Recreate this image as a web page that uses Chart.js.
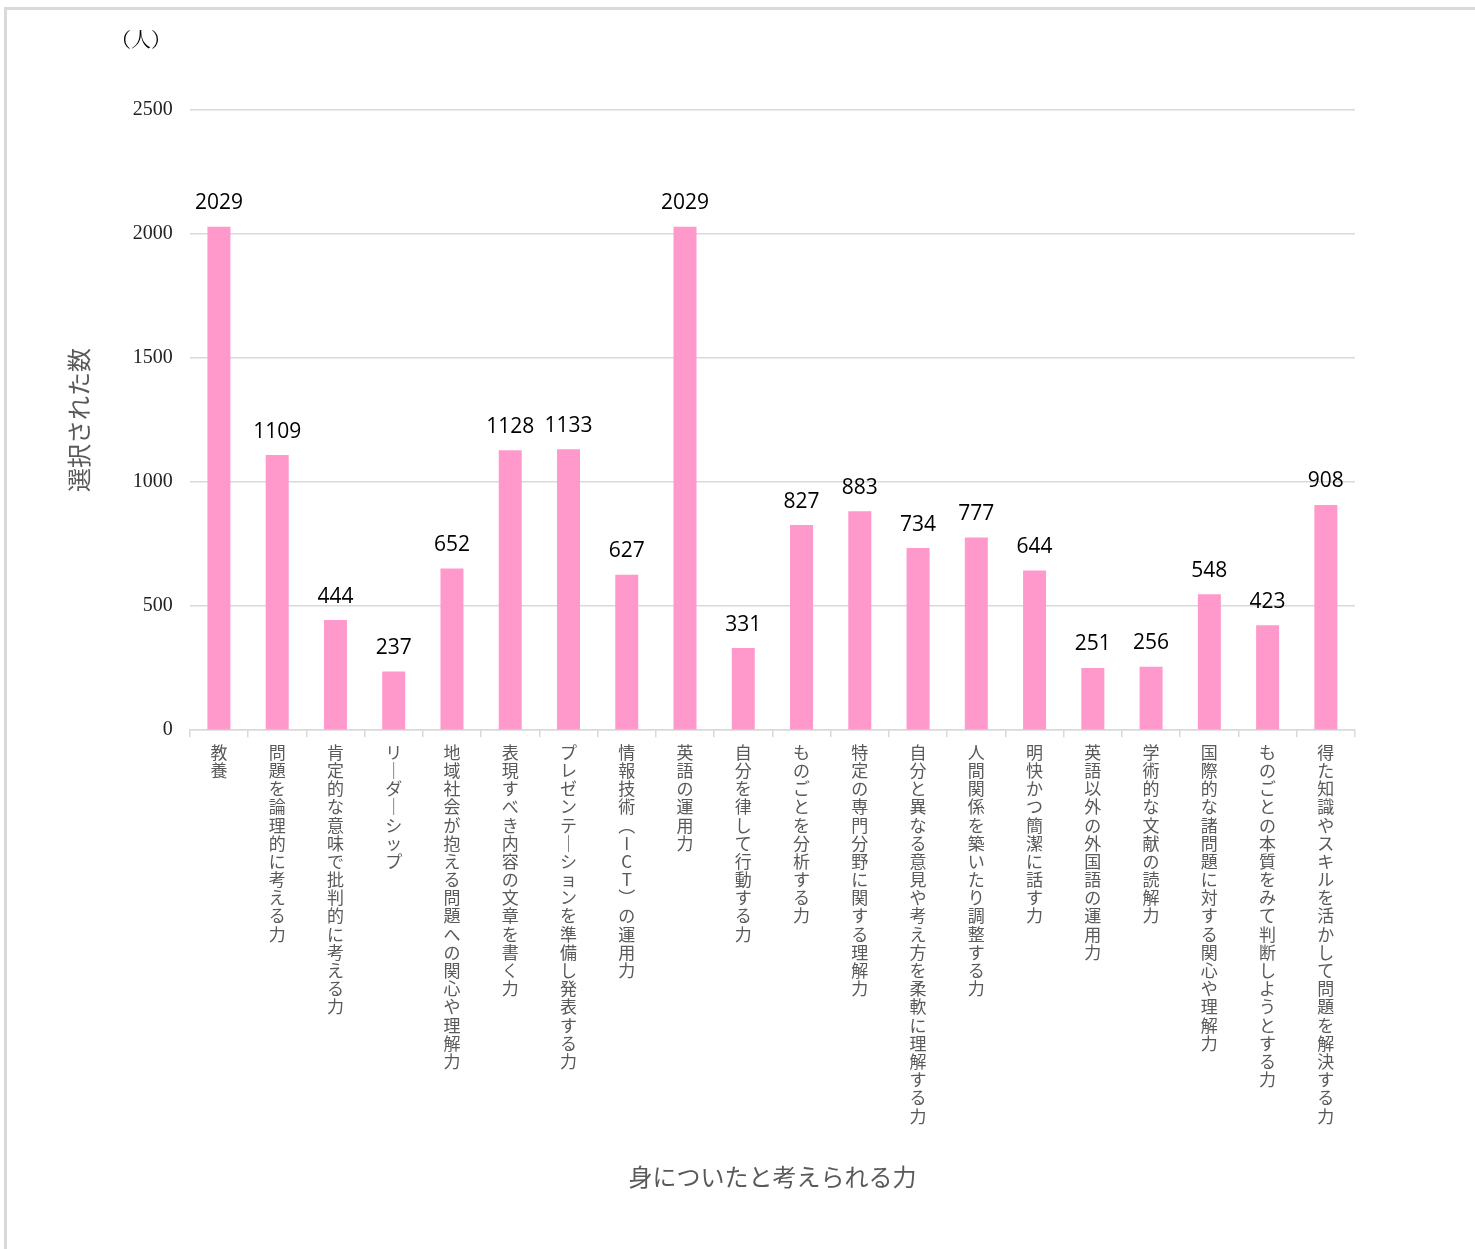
<!DOCTYPE html>
<html lang="ja">
<head>
<meta charset="utf-8">
<script src="https://cdn.jsdelivr.net/npm/chart.js@4.4.1/dist/chart.umd.min.js"></script>
<style>
  html, body { margin: 0; padding: 0; background: #ffffff; }
  #wrap { position: relative; width: 1475px; height: 1249px; overflow: hidden; }
  #frame { position: absolute; left: 4px; top: 7px; right: -10px; bottom: -10px;
           border-left: 3px solid #d9d9d9; border-top: 3px solid #d9d9d9; pointer-events: none; }
  #unit { position: absolute; left: 111px; top: 24px; font-family: "Liberation Serif", "Noto Serif CJK JP", serif;
          font-size: 20px; color: #000; }
  canvas { position: absolute; left: 0; top: 0; }
</style>
</head>
<body>
<div id="wrap">
  <canvas id="c" width="1475" height="1249"></canvas>
  <div id="frame"></div>
  <div id="unit">（人）</div>
</div>
<script>
// ---- data ----
const categories = [
  "教養",
  "問題を論理的に考える力",
  "肯定的な意味で批判的に考える力",
  "リーダーシップ",
  "地域社会が抱える問題への関心や理解力",
  "表現すべき内容の文章を書く力",
  "プレゼンテーションを準備し発表する力",
  "情報技術（ICT）の運用力",
  "英語の運用力",
  "自分を律して行動する力",
  "ものごとを分析する力",
  "特定の専門分野に関する理解力",
  "自分と異なる意見や考え方を柔軟に理解する力",
  "人間関係を築いたり調整する力",
  "明快かつ簡潔に話す力",
  "英語以外の外国語の運用力",
  "学術的な文献の読解力",
  "国際的な諸問題に対する関心や理解力",
  "ものごとの本質をみて判断しようとする力",
  "得た知識やスキルを活かして問題を解決する力"
];
const counts = [2029, 1109, 444, 237, 652, 1128, 1133, 627, 2029, 331, 827, 883, 734, 777, 644, 251, 256, 548, 423, 908];
const yTicks = [0, 500, 1000, 1500, 2000, 2500];
const yAxisTitle = "選択された数";
const xAxisTitle = "身についたと考えられる力";

// vertical (stacked) label helper
const verticalMap = { "ー": "｜", "（": "︵", "）": "︶" };
function toVertical(s) {
  return Array.from(s).map(ch => verticalMap[ch] || ch);
}

const valueLabels = {
  id: "valueLabels",
  afterDatasetsDraw(chart) {
    const ctx = chart.ctx;
    const meta = chart.getDatasetMeta(0);
    ctx.save();
    ctx.font = '21px "Open Sans", "Noto Sans", sans-serif';
    ctx.fillStyle = "#000000";
    ctx.textAlign = "center";
    ctx.textBaseline = "bottom";
    meta.data.forEach((bar, i) => {
      ctx.fillText(String(chart.data.datasets[0].data[i]), bar.x, bar.y - 13);
    });
    ctx.restore();
  }
};

new Chart(document.getElementById("c"), {
  type: "bar",
  data: {
    labels: categories,
    datasets: [{
      data: counts,
      backgroundColor: "#ff99cc",
      borderWidth: 0,
      barPercentage: 0.395,
      categoryPercentage: 1.0
    }]
  },
  options: {
    responsive: false,
    animation: false,
    devicePixelRatio: 1,
    layout: { padding: { left: 64, right: 120, top: 110, bottom: 58 } },
    plugins: { legend: { display: false }, tooltip: { enabled: false } },
    scales: {
      x: {
        offset: true,
        grid: { display: true, drawOnChartArea: false, drawTicks: true, tickLength: 7, color: "#d9d9d9", lineWidth: 1.5, offset: true },
        border: { display: true, color: "#d9d9d9", width: 1.5 },
        ticks: {
          autoSkip: false, maxRotation: 0, minRotation: 0, padding: 6,
          color: "#595959",
          font: { family: '"Noto Sans CJK JP", sans-serif', size: 17, lineHeight: 1.07 },
          callback: function (value) { return toVertical(this.getLabelForValue(value)); }
        },
        title: {
          display: true, text: xAxisTitle, color: "#595959",
          font: { family: '"Noto Sans CJK JP", sans-serif', size: 24 },
          padding: { top: 31, bottom: 0 }
        }
      },
      y: {
        min: 0, max: 2500,
        afterBuildTicks(scale) { scale.ticks = yTicks.map(v => ({ value: v })); },
        grid: { color: "#d9d9d9", lineWidth: 1.5, drawTicks: false },
        border: { display: false },
        ticks: {
          padding: 17, color: "#222222",
          font: { family: '"Liberation Serif", serif', size: 20 },
          callback: (v) => String(v)
        },
        title: {
          display: true, text: yAxisTitle, color: "#595959",
          font: { family: '"Noto Sans CJK JP", sans-serif', size: 24 },
          padding: { top: 0, bottom: 23 }
        }
      }
    }
  },
  plugins: [valueLabels]
});
</script>
</body>
</html>
